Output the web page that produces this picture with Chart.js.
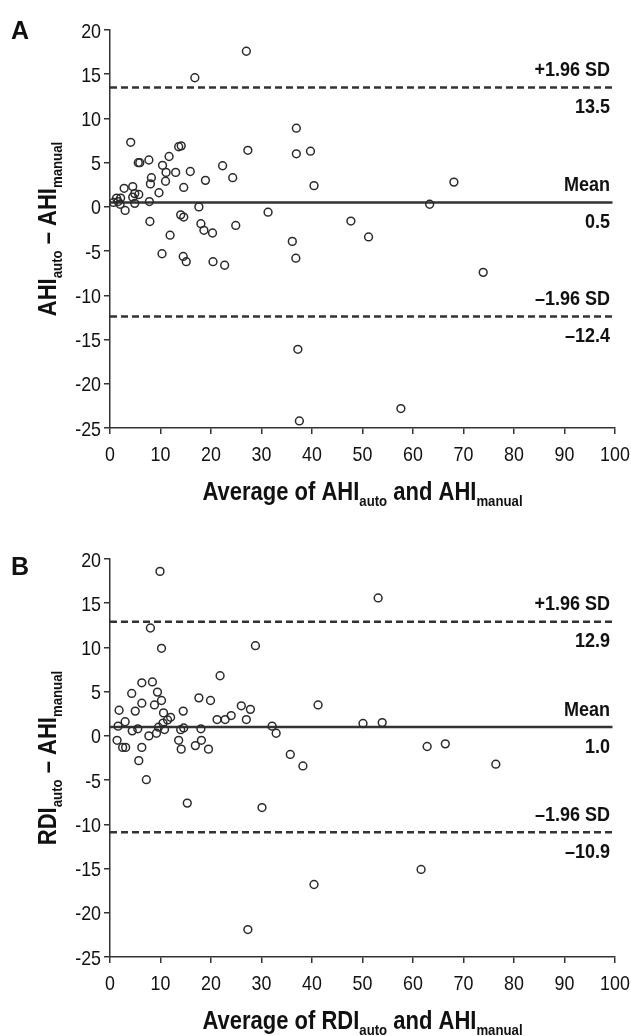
<!DOCTYPE html>
<html>
<head>
<meta charset="utf-8">
<script src="https://cdn.jsdelivr.net/npm/chart.js@4.4.1/dist/chart.umd.min.js"></script>
<style>
  html, body { margin: 0; padding: 0; background: #fff; }
  canvas { display: block; }
</style>
</head>
<body>
<canvas id="chartA" width="631" height="518"></canvas>
<canvas id="chartB" width="631" height="518"></canvas>
<script>
// Panel A: average of AHI_auto and AHI_manual vs difference
const aX = [27.0, 16.8, 4.1, 13.6, 14.1, 27.3, 7.7, 5.6, 5.9, 11.7, 10.4, 22.3, 11.1, 13.0, 15.9, 8.2, 24.3, 8.0, 11.0, 18.9,
            2.8, 4.5, 14.6, 9.7, 4.9, 5.7, 4.5, 1.3, 2.1, 7.8, 4.9, 0.7, 1.6, 2.0, 3.0, 17.6, 31.3, 14.0, 14.6, 7.9,
            18.0, 18.6, 20.3, 24.9, 11.9, 10.3, 14.5, 15.1, 20.4, 22.7, 36.9, 36.9, 39.7, 40.4, 47.7, 51.2, 36.1, 36.8, 63.3, 68.1,
            37.2, 57.6, 73.9, 37.5];
const aY = [17.6, 14.6, 7.3, 6.8, 6.9, 6.4, 5.3, 5.0, 5.0, 5.7, 4.7, 4.65, 3.9, 3.9, 4.0, 3.3, 3.3, 2.6, 2.9, 3.0,
            2.1, 2.3, 2.2, 1.6, 1.5, 1.4, 1.1, 1.0, 1.0, 0.6, 0.4, 0.5, 0.6, 0.3, -0.4, 0.0, -0.6, -0.9, -1.15, -1.65,
            -1.9, -2.65, -2.95, -2.1, -3.2, -5.3, -5.6, -6.2, -6.2, -6.6, 8.9, 6.0, 6.3, 2.4, -1.6, -3.4, -3.9, -5.8, 0.3, 2.8,
            -16.1, -22.8, -7.4, -24.2];

// Panel B: average of RDI_auto and AHI_manual vs difference
const bX = [9.9, 8.0, 10.2, 28.8, 21.8, 6.3, 8.4, 9.4, 4.3, 10.2, 6.3, 8.8, 17.6, 19.9, 1.8, 5.0, 14.5, 10.6, 26.0, 27.8,
            12.0, 11.4, 10.5, 21.2, 22.8, 24.0, 27.0, 3.0, 1.6, 5.5, 4.4, 9.6, 10.8, 9.2, 7.7, 14.0, 14.6, 18.0, 32.1, 32.9,
            1.4, 13.6, 18.1, 16.9, 2.5, 3.1, 6.3, 14.1, 19.5, 5.7, 7.2, 15.3, 30.1, 27.3, 53.1, 41.2, 50.1, 53.9, 35.7, 38.2,
            62.8, 66.4, 61.6, 40.4, 76.4];
const bY = [18.6, 12.2, 9.9, 10.2, 6.8, 6.0, 6.1, 4.95, 4.8, 4.0, 3.7, 3.5, 4.3, 4.0, 2.9, 2.8, 2.8, 2.6, 3.4, 3.0,
            2.1, 1.8, 1.45, 1.85, 1.85, 2.3, 1.85, 1.6, 1.1, 0.8, 0.57, 0.98, 0.72, 0.3, 0.0, 0.7, 0.9, 0.8, 1.1, 0.3,
            -0.5, -0.5, -0.5, -1.1, -1.3, -1.3, -1.3, -1.5, -1.5, -2.8, -4.95, -7.6, -8.1, -21.9, 15.6, 3.5, 1.4, 1.5, -2.1, -3.4,
            -1.2, -0.9, -15.1, -16.8, -3.2];

// limits of agreement: upper, mean, lower
const aLimits = [13.5, 0.5, -12.4];
const bLimits = [12.9, 1.0, -10.9];
const limitNames = ['+1.96 SD', 'Mean', '\u20131.96 SD'];
const aLimitText = ['13.5', '0.5', '\u201312.4'];
const bLimitText = ['12.9', '1.0', '\u201310.9'];

const xMin = 0, xMax = 100, xStep = 10;
const yMin = -25, yMax = 20, yStep = 5;
const lineEnd = 99.5;

// no narrow face installed, so text is squeezed horizontally to look like Arial Narrow
const FONT = '"Liberation Sans", Arial, sans-serif';
const INK = '#111';
const LINE = '#333';

const TICK_FONT = '21px ' + FONT;
const TITLE_FONT = 'bold 25px ' + FONT;
const SUB_FONT = 'bold 15px ' + FONT;

function squeezed(ctx, text, x, y, align, s) {
  ctx.save();
  ctx.translate(x, y);
  ctx.scale(s, 1);
  ctx.textAlign = align;
  ctx.fillText(text, 0, 0);
  ctx.restore();
}

function richWidth(ctx, parts) {
  let w = 0;
  parts.forEach(p => {
    ctx.font = p[1] ? SUB_FONT : TITLE_FONT;
    w += ctx.measureText(p[0]).width;
  });
  return w;
}

function drawRich(ctx, parts, cx, baseline, s) {
  ctx.save();
  ctx.translate(cx, baseline);
  ctx.scale(s, 1);
  let x = -richWidth(ctx, parts) / 2;
  ctx.textAlign = 'left';
  ctx.textBaseline = 'alphabetic';
  parts.forEach(p => {
    ctx.font = p[1] ? SUB_FONT : TITLE_FONT;
    ctx.fillText(p[0], x, p[1] ? 6 : 0);
    x += ctx.measureText(p[0]).width;
  });
  ctx.restore();
}

// tick labels, titles with subscripts, panel letter and limit labels
const panelText = {
  id: 'panelText',
  afterDatasetsDraw(chart, args, opts) {
    const { ctx, chartArea, scales: { x, y } } = chart;
    ctx.save();
    ctx.fillStyle = INK;

    // tick labels
    ctx.font = TICK_FONT;
    ctx.textBaseline = 'alphabetic';
    x.ticks.forEach(t => {
      squeezed(ctx, String(t.value), x.getPixelForValue(t.value), chartArea.bottom + 33, 'center', 0.85);
    });
    y.ticks.forEach(t => {
      squeezed(ctx, String(t.value), chartArea.left - 9, y.getPixelForValue(t.value) + 7.5, 'right', 0.85);
    });

    // limit labels on the right
    ctx.font = 'bold 20px ' + FONT;
    ctx.textBaseline = 'middle';
    const xr = x.getPixelForValue(99);
    opts.limits.forEach((v, i) => {
      const py = y.getPixelForValue(v);
      squeezed(ctx, limitNames[i], xr, py - 17, 'right', 0.9);
      squeezed(ctx, opts.limitText[i], xr, py + 20, 'right', 0.9);
    });

    // x title
    drawRich(ctx, opts.xTitle, (chartArea.left + chartArea.right) / 2, chartArea.bottom + 72, 0.88);

    // y title, rotated
    ctx.save();
    ctx.translate(56, (chartArea.top + chartArea.bottom) / 2);
    ctx.rotate(-Math.PI / 2);
    drawRich(ctx, opts.yTitle, 0, 0, 0.88);
    ctx.restore();

    // panel letter
    ctx.font = 'bold 25px ' + FONT;
    ctx.textAlign = 'left';
    ctx.textBaseline = 'middle';
    ctx.fillText(opts.letter, 11, opts.letterY);
    ctx.restore();
  }
};

function refLine(v, dashed) {
  return {
    type: 'scatter',
    data: [{ x: xMin, y: v }, { x: lineEnd, y: v }],
    showLine: true,
    borderColor: LINE,
    borderWidth: 2.5,
    borderDash: dashed ? [7, 4] : [],
    pointRadius: 0,
    order: 2
  };
}

function makeChart(id, xs, ys, limits, limitText, letter, letterY, yTitle, xTitle, top, bottom) {
  const ctx = document.getElementById(id).getContext('2d');
  const H = 518;
  return new Chart(ctx, {
    type: 'scatter',
    data: {
      datasets: [
        {
          data: xs.map((v, i) => ({ x: v, y: ys[i] })),
          pointRadius: 3.9,
          pointBorderWidth: 1.5,
          pointBorderColor: '#2a2a2a',
          pointBackgroundColor: 'rgba(255,255,255,0)',
          order: 1
        },
        refLine(limits[0], true),
        refLine(limits[1], false),
        refLine(limits[2], true)
      ]
    },
    options: {
      responsive: false,
      animation: false,
      devicePixelRatio: 1,
      layout: { padding: { top: top, right: 16, left: 0, bottom: 0 } },
      plugins: {
        legend: { display: false },
        tooltip: { enabled: false },
        panelText: { limits, limitText, letter, letterY, yTitle, xTitle }
      },
      scales: {
        x: {
          type: 'linear',
          min: xMin, max: xMax,
          offset: false,
          afterFit: s => { s.height = H - bottom; },
          ticks: { stepSize: xStep, display: false },
          grid: { drawOnChartArea: false, drawTicks: true, tickLength: 6, color: LINE, lineWidth: 1.5 },
          border: { display: true, color: LINE, width: 1.5 }
        },
        y: {
          type: 'linear',
          min: yMin, max: yMax,
          afterFit: s => { s.width = 110; },
          ticks: { stepSize: yStep, display: false },
          grid: { drawOnChartArea: false, drawTicks: true, tickLength: 6, color: LINE, lineWidth: 1.5 },
          border: { display: true, color: LINE, width: 1.5 }
        }
      }
    },
    plugins: [panelText]
  });
}

makeChart('chartA', aX, aY, aLimits, aLimitText, 'A', 32,
  [['AHI', 0], ['auto', 1], [' \u2013 AHI', 0], ['manual', 1]],
  [['Average of AHI', 0], ['auto', 1], [' and AHI', 0], ['manual', 1]],
  30, 428);

makeChart('chartB', bX, bY, bLimits, bLimitText, 'B', 50,
  [['RDI', 0], ['auto', 1], [' \u2013 AHI', 0], ['manual', 1]],
  [['Average of RDI', 0], ['auto', 1], [' and AHI', 0], ['manual', 1]],
  41, 439);
</script>
</body>
</html>
